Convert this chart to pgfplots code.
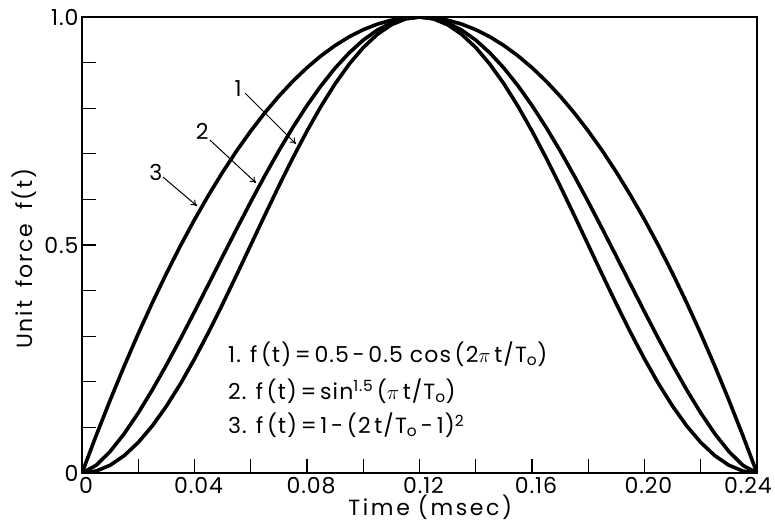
\documentclass[border=0pt]{standalone}
\usepackage{fontspec}
\setmainfont{Poppins}
\usepackage{pgfplots}
\usepackage{pgfplotstable}
\pgfplotsset{compat=1.18}
\usetikzlibrary{arrows.meta}
\pgfplotstableread{
t c1 c2 c3
0.000 0 0 0
0.005 0.004278 0.016726 0.081597
0.010 0.017037 0.047157 0.159722
0.015 0.038060 0.086169 0.234375
0.020 0.066987 0.131672 0.305556
0.025 0.103323 0.182242 0.373264
0.030 0.146447 0.236733 0.437500
0.035 0.195619 0.294144 0.498264
0.040 0.250000 0.353553 0.555556
0.045 0.308658 0.414103 0.609375
0.050 0.370590 0.474974 0.659722
0.055 0.434737 0.535390 0.706597
0.060 0.500000 0.594604 0.750000
0.065 0.565263 0.651912 0.789931
0.070 0.629410 0.706642 0.826389
0.075 0.691342 0.758176 0.859375
0.080 0.750000 0.805927 0.888889
0.085 0.804381 0.849369 0.914931
0.090 0.853553 0.888021 0.937500
0.095 0.896677 0.921461 0.956597
0.100 0.933013 0.949327 0.972222
0.105 0.961940 0.971317 0.984375
0.110 0.982963 0.987196 0.993056
0.115 0.995722 0.996790 0.998264
0.120 1 1 1
0.125 0.995722 0.996790 0.998264
0.130 0.982963 0.987196 0.993056
0.135 0.961940 0.971317 0.984375
0.140 0.933013 0.949327 0.972222
0.145 0.896677 0.921461 0.956597
0.150 0.853553 0.888021 0.937500
0.155 0.804381 0.849369 0.914931
0.160 0.750000 0.805927 0.888889
0.165 0.691342 0.758176 0.859375
0.170 0.629410 0.706642 0.826389
0.175 0.565263 0.651912 0.789931
0.180 0.500000 0.594604 0.750000
0.185 0.434737 0.535390 0.706597
0.190 0.370590 0.474974 0.659722
0.195 0.308658 0.414103 0.609375
0.200 0.250000 0.353553 0.555556
0.205 0.195619 0.294144 0.498264
0.210 0.146447 0.236733 0.437500
0.215 0.103323 0.182242 0.373264
0.220 0.066987 0.131672 0.305556
0.225 0.038060 0.086169 0.234375
0.230 0.017037 0.047157 0.159722
0.235 0.004278 0.016726 0.081597
0.240 0 0 0
}\datatable
\newcommand\bigf{\fontsize{22}{24}\selectfont}
\begin{document}
\begin{tikzpicture}
\begin{axis}[
  name=ax,
  scale only axis,
  width=675pt, height=456pt,
  xmin=0, xmax=0.24, ymin=0, ymax=1,
  axis line style={line width=1.2pt},
  every tick/.style={line width=1.1pt, black},
  major tick length=14pt,
  tick align=inside,
  xtick pos=left, ytick pos=left,
  xtick={0,0.02,0.04,0.06,0.08,0.10,0.12,0.14,0.16,0.18,0.20,0.22,0.24},
  xticklabels={0,,0.04,,0.08,,0.12,,0.16,,0.20,,\makebox[0pt]{\hspace*{-26pt}0.24}},
  ytick={0,0.1,0.2,0.3,0.4,0.5,0.6,0.7,0.8,0.9,1.0},
  yticklabels={0,,,,,0.5,,,,,1.0},
  /pgf/number format/assume math mode=true,
  tick label style={font=\bigf\addfontfeatures{LetterSpace=4}},
  xticklabel style={xshift=4pt, yshift=-1pt},
  xlabel={Time\hspace{8pt}(msec)},
  ylabel={Unit\hspace{5pt} force\hspace{6pt} f(t)},
  xlabel style={at={(axis description cs:0.516,0)}, anchor=base, yshift=-42pt, font=\bigf\addfontfeatures{LetterSpace=12}},
  ylabel style={at={(axis description cs:-0.0726,0.47)}, anchor=base, font=\bigf\addfontfeatures{LetterSpace=9}},
]
\addplot[black, line width=3.6pt, line join=round] table[x=t,y=c1] {\datatable};
\addplot[black, line width=3.6pt, line join=round] table[x=t,y=c2] {\datatable};
\addplot[black, line width=3.6pt, line join=round] table[x=t,y=c3] {\datatable};
\draw[-{To[length=6pt,width=7pt]}, line width=1pt] (axis cs:0.0580,0.833) -- (axis cs:0.0761,0.7215);
\draw[-{To[length=6pt,width=7pt]}, line width=1pt] (axis cs:0.0455,0.730) -- (axis cs:0.0619,0.636);
\draw[-{To[length=6pt,width=7pt]}, line width=1pt] (axis cs:0.0288,0.649) -- (axis cs:0.0409,0.5855);
\node[font=\bigf] at (axis cs:0.0555,0.844) {1};
\node[font=\bigf] at (axis cs:0.0427,0.750) {2};
\node[font=\bigf] at (axis cs:0.0263,0.660) {3};
\node[anchor=base west, inner sep=0pt, font=\bigf\addfontfeatures{LetterSpace=5}] at (axis cs:0.0519,0.243) {1. f\,(t)\,=\,0.5\,-\,0.5 cos\,(2$\pi$\,t/T\textsubscript{o})};
\node[anchor=base west, inner sep=0pt, font=\bigf\addfontfeatures{LetterSpace=5}] at (axis cs:0.0519,0.162) {2. f\,(t)\,=\,sin\textsuperscript{1.5}\,($\pi$\,t/T\textsubscript{o})};
\node[anchor=base west, inner sep=0pt, font=\bigf\addfontfeatures{LetterSpace=5}] at (axis cs:0.0519,0.086) {3. f\,(t)\,=\,1\,-\,(2\,t/T\textsubscript{o}\,-\,1)\textsuperscript{2}};
\end{axis}
\pgfresetboundingbox
\path ([xshift=-82pt,yshift=-50pt]ax.south west) rectangle ([xshift=18pt,yshift=17pt]ax.north east);
\end{tikzpicture}
\end{document}
